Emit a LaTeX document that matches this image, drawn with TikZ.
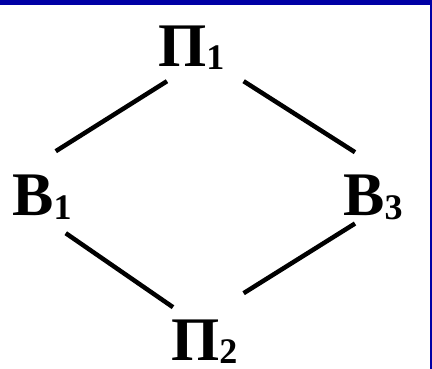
\documentclass[tikz,border=0pt]{standalone}
\usepackage{fontspec}
\setmainfont{Liberation Serif}
\usepackage{tikz}
\usetikzlibrary{calc}
\definecolor{frameblue}{RGB}{0,0,165}
\newcommand{\vlbl}[2]{#1\raisebox{-3pt}{\fontsize{36}{36}\selectfont #2}}

\begin{document}
\begin{tikzpicture}[
  x=1pt, y=-1pt,
  lbl/.style={anchor=base west, inner sep=0pt,
              font=\fontsize{62}{62}\selectfont\bfseries},
  edge/.style={line width=4.5pt, black},
]
  \useasboundingbox (0,0) rectangle (432,369);
  % frame
  \fill[frameblue] (0,0) rectangle (432,5);
  \fill[frameblue] (430,0) rectangle (432,369);
  % labels
  \node[lbl] (p1) at (158,67)  {\vlbl{П}{1}};
  \node[lbl] (b1) at (12,216)  {\vlbl{В}{1}};
  \node[lbl] (b3) at (343,216) {\vlbl{В}{3}};
  \node[lbl] (p2) at (171,360) {\vlbl{П}{2}};
  % sides
  \draw[edge] ($(p1.south west)+(9,11)$)  -- ($(b1.north east)+(-16,-24)$);
  \draw[edge] ($(p1.south east)+(19,11)$) -- ($(b3.north west)+(12,-23)$);
  \draw[edge] ($(b1.south east)+(-6,14)$) -- ($(p2.north west)+(2,-12)$);
  \draw[edge] ($(b3.south west)+(12,4)$)  -- ($(p2.north east)+(6,-26)$);
\end{tikzpicture}
\end{document}
